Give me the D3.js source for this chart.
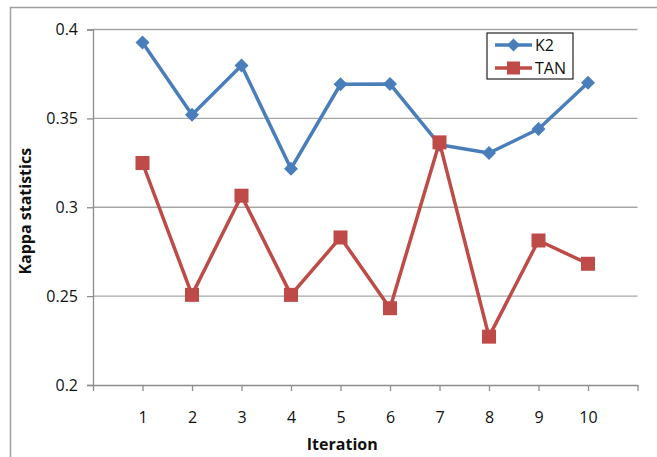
<!DOCTYPE html>
<html><head><meta charset="utf-8">
<script src="https://cdn.jsdelivr.net/npm/d3@7"></script>
<style>body{margin:0;background:#fff}svg{display:block}text{font-family:"Open Sans",sans-serif}</style>
</head><body>
<svg id="c" width="657" height="457"></svg>
<script>
const iterations = [1,2,3,4,5,6,7,8,9,10];
const k2 = [0.3927,0.3521,0.3797,0.3217,0.3692,0.3694,0.3352,0.3305,0.3440,0.3700];
const tan = [0.3249,0.2507,0.3065,0.2507,0.2830,0.2432,0.3365,0.2272,0.2813,0.2682];
const yTicks = [0.2,0.25,0.3,0.35,0.4];
const seriesNames = ["K2","TAN"];
const colors = ["#4a7ebb","#be4b48"];

const svg = d3.select("#c");
const L=93, R=637.5, T=29.5, B=385;
const x = d3.scaleLinear().domain([0,11]).range([L,R]);
const y = d3.scaleLinear().domain([0.2,0.4]).range([B,T]);

// outer border
svg.append("rect").attr("x",10.5).attr("y",7.5).attr("width",660).attr("height",460)
  .attr("fill","none").attr("stroke","#a0a0a0").attr("stroke-width",1.5);

// gridlines
svg.append("g").selectAll("line").data(yTicks.slice(1)).join("line")
  .attr("x1",L).attr("x2",R).attr("y1",d=>y(d)).attr("y2",d=>y(d))
  .attr("stroke","#a6a6a6").attr("stroke-width",1.3);

// y axis
const ya = svg.append("g").attr("transform",`translate(${L},0)`)
  .call(d3.axisLeft(y).tickValues(yTicks).tickSize(6).tickPadding(9).tickFormat(d=>String(+d.toFixed(2))));
ya.select(".domain").attr("stroke","#8c8c8c").attr("stroke-width",1.3);
ya.selectAll(".tick line").attr("stroke","#8c8c8c").attr("stroke-width",1.3);
ya.selectAll("text").attr("font-size",16).attr("fill","#111").attr("font-family","Open Sans");

// x axis
const xa = svg.append("g").attr("transform",`translate(0,${B})`)
  .call(d3.axisBottom(x).tickValues(d3.range(0,12)).tickSize(6).tickSizeOuter(0).tickPadding(21)
    .tickFormat(d=>iterations.includes(d)?String(d):""));
xa.select(".domain").attr("stroke","#8c8c8c").attr("stroke-width",1.3);
xa.selectAll(".tick line").attr("stroke","#8c8c8c").attr("stroke-width",1.3);
xa.selectAll("text").attr("font-size",16).attr("fill","#111").attr("font-family","Open Sans");

// axis titles
svg.append("text").attr("x",(L+R)/2-23).attr("y",450).attr("text-anchor","middle")
  .attr("font-size",16).attr("font-weight","bold").attr("fill","#111").text("Iteration");
svg.append("text").attr("transform",`translate(31,${(T+B)/2+4}) rotate(-90)`).attr("text-anchor","middle")
  .attr("font-size",16).attr("font-weight","bold").attr("fill","#111").text("Kappa statistics");

const line = d3.line().x((d,i)=>x(iterations[i])).y(d=>y(d));
const diamond = s => `M0,${-s}L${s},0L0,${s}L${-s},0Z`;

// K2
svg.append("path").datum(k2).attr("d",line).attr("fill","none").attr("stroke",colors[0]).attr("stroke-width",3.5).attr("stroke-linejoin","round");
svg.append("g").selectAll("path").data(k2).join("path")
  .attr("transform",(d,i)=>`translate(${x(iterations[i])},${y(d)})`).attr("d",diamond(7)).attr("fill",colors[0]);
// TAN
svg.append("path").datum(tan).attr("d",line).attr("fill","none").attr("stroke",colors[1]).attr("stroke-width",3.5).attr("stroke-linejoin","round");
svg.append("g").selectAll("rect").data(tan).join("rect")
  .attr("x",(d,i)=>x(iterations[i])-7).attr("y",d=>y(d)-7).attr("width",14).attr("height",14).attr("fill",colors[1]);

// legend
const lg = svg.append("g");
lg.append("rect").attr("x",487).attr("y",33).attr("width",86).attr("height",46)
  .attr("fill","#fff").attr("stroke","#222").attr("stroke-width",1.2);
seriesNames.forEach((n,i)=>{
  const yy = 45 + i*23;
  lg.append("line").attr("x1",495).attr("x2",532).attr("y1",yy).attr("y2",yy).attr("stroke",colors[i]).attr("stroke-width",3.5);
  if(i===0) lg.append("path").attr("transform",`translate(513.5,${yy})`).attr("d",diamond(6.5)).attr("fill",colors[i]);
  else lg.append("rect").attr("x",507).attr("y",yy-6.5).attr("width",13).attr("height",13).attr("fill",colors[i]);
  lg.append("text").attr("x",535).attr("y",yy+6).attr("font-size",16).attr("fill","#111").text(n);
});
</script>
</body></html>
